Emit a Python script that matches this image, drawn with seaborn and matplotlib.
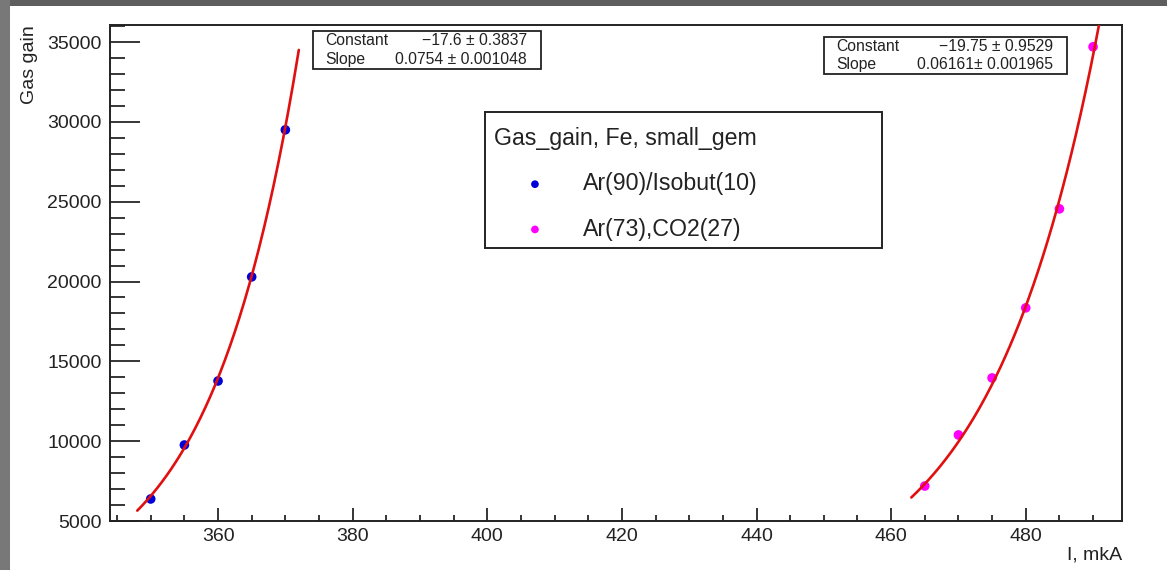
import numpy as np
import pandas as pd
import matplotlib
matplotlib.use("Agg")
import matplotlib.pyplot as plt
from matplotlib.patches import Rectangle
from matplotlib.ticker import MultipleLocator
import seaborn as sns

# Measured gas gain versus GEM current
current_ar_isobut = [350, 355, 360, 365, 370]
gain_ar_isobut = [6380, 9760, 13770, 20290, 29500]

current_ar_co2 = [465, 470, 475, 480, 485, 490]
gain_ar_co2 = [7190, 10390, 13960, 18350, 24550, 34700]

# Exponential fit results: gain = exp(Constant + Slope * I)
fit_ar_isobut = {"Constant": -17.6, "Constant_err": 0.3837, "Slope": 0.0754, "Slope_err": 0.001048}
fit_ar_co2 = {"Constant": -19.75, "Constant_err": 0.9529, "Slope": 0.06161, "Slope_err": 0.001965}
fit_range_ar_isobut = [348, 372]
fit_range_ar_co2 = [463, 491]

series_labels = ["Ar(90)/Isobut(10)", "Ar(73),CO2(27)"]
legend_title = "Gas_gain, Fe, small_gem"
x_title = "I, mkA"
y_title = "Gas gain"

sns.set_style("white")
plt.rcParams["font.family"] = ["Liberation Sans", "DejaVu Sans"]
plt.rcParams["axes.unicode_minus"] = True

W, H = 1167, 570
fig = plt.figure(figsize=(W / 100, H / 100), dpi=100)
fig.patch.set_facecolor("white")


def fx(px):
    return px / W


def fy(py):
    return 1 - py / H


ax = fig.add_axes([fx(110), fy(521), fx(1122) - fx(110), fy(25) - fy(521)])

df_a = pd.DataFrame({"I": current_ar_isobut, "gain": gain_ar_isobut})
df_b = pd.DataFrame({"I": current_ar_co2, "gain": gain_ar_co2})

sns.scatterplot(data=df_a, x="I", y="gain", ax=ax, color="#0000d8", s=48,
                edgecolor="none", label=series_labels[0], zorder=3)
sns.scatterplot(data=df_b, x="I", y="gain", ax=ax, color="#ff00ff", s=48,
                edgecolor="none", label=series_labels[1], zorder=3)

for fit, rng in ((fit_ar_isobut, fit_range_ar_isobut), (fit_ar_co2, fit_range_ar_co2)):
    xs = np.linspace(rng[0], rng[1], 200)
    curve = pd.DataFrame({"I": xs, "gain": np.exp(fit["Constant"] + fit["Slope"] * xs)})
    sns.lineplot(data=curve, x="I", y="gain", ax=ax, color="#e01010", lw=1.9,
                 zorder=4, legend=False)

ax.set_xlim(343.95, 494.3)
ax.set_ylim(5000, 36065)

ax.xaxis.set_major_locator(MultipleLocator(20))
ax.xaxis.set_minor_locator(MultipleLocator(5))
ax.yaxis.set_major_locator(MultipleLocator(5000))
ax.yaxis.set_minor_locator(MultipleLocator(1000))
ax.tick_params(axis="x", which="major", direction="in", length=9.5, width=1.3,
               labelsize=14, pad=5, bottom=True, top=False)
ax.tick_params(axis="x", which="minor", direction="in", length=4.5, width=1.3,
               bottom=True, top=False)
ax.tick_params(axis="y", which="major", direction="in", length=21.5, width=1.3,
               labelsize=14, pad=6, left=True, right=False)
ax.tick_params(axis="y", which="minor", direction="in", length=10.8, width=1.3,
               left=True, right=False)
for lab in ax.get_xticklabels() + ax.get_yticklabels():
    lab.set_color("#222222")
for sp in ax.spines.values():
    sp.set_visible(True)
    sp.set_color("#222222")
    sp.set_linewidth(1.4)

ax.set_xlabel(x_title, fontsize=14, loc="right", color="#222222")
ax.xaxis.set_label_coords(1.0, -0.052)
ax.set_ylabel(y_title, fontsize=14, loc="top", color="#222222")
ax.yaxis.set_label_coords(-0.071, 1.0)


def frame(x0, y0, x1, y1, lw):
    ax.add_patch(Rectangle((fx(x0), fy(y1)), fx(x1) - fx(x0), fy(y0) - fy(y1),
                           transform=fig.transFigure, facecolor="white",
                           edgecolor="#222222", lw=lw, zorder=5, clip_on=False))


# Legend inside a plain rectangular frame
frame(485, 112, 882, 248, 1.4)
handles, labels = ax.get_legend_handles_labels()
leg = ax.legend(handles, labels, title=legend_title, loc="upper left",
                bbox_to_anchor=(fx(494), fy(127)), bbox_transform=fig.transFigure,
                frameon=False, fontsize=16.7, title_fontsize=16.7, alignment="left",
                borderpad=0, borderaxespad=0, handlelength=3.53, handletextpad=0.3,
                labelspacing=0.96, markerscale=0.8)
leg.set_zorder(6)
for t in leg.get_texts():
    t.set_color("#222222")
leg.get_title().set_color("#222222")


def signed(v, fmt):
    s = fmt.format(abs(v))
    return ("\u2212" + s) if v < 0 else s


def stat_box(x0, y0, x1, y1, fit, cfmt, sfmt, sep_c, sep_s):
    frame(x0, y0, x1, y1, 1.3)
    rows = [("Constant", signed(fit["Constant"], cfmt) + sep_c + "\u00b1 " + "{:.4f}".format(fit["Constant_err"])),
            ("Slope", signed(fit["Slope"], sfmt) + sep_s + "\u00b1 " + "{:.6f}".format(fit["Slope_err"]))]
    h = (y1 - y0) / 2
    for i, (name, val) in enumerate(rows):
        yc = y0 + h * (i + 0.5)
        ax.text(fx(x0 + 12), fy(yc), name, fontsize=11.3, va="center", ha="left",
                color="#222222", zorder=7, transform=fig.transFigure)
        ax.text(fx(x1 - 14), fy(yc), val, fontsize=11.3, va="center", ha="right",
                color="#222222", zorder=7, transform=fig.transFigure)


stat_box(313, 31, 541, 69, fit_ar_isobut, "{:.1f}", "{:.4f}", " ", " ")
stat_box(824, 37, 1067, 74, fit_ar_co2, "{:.2f}", "{:.5f}", " ", "")

# Window frame edges
fig.patches.append(Rectangle((0, fy(6)), 1, 1 - fy(6), transform=fig.transFigure,
                             facecolor="#5e5e5e", edgecolor="none", zorder=10))
fig.patches.append(Rectangle((0, 0), fx(10), 1, transform=fig.transFigure,
                             facecolor="#787878", edgecolor="none", zorder=10))

fig.savefig("out.png", dpi=100)
